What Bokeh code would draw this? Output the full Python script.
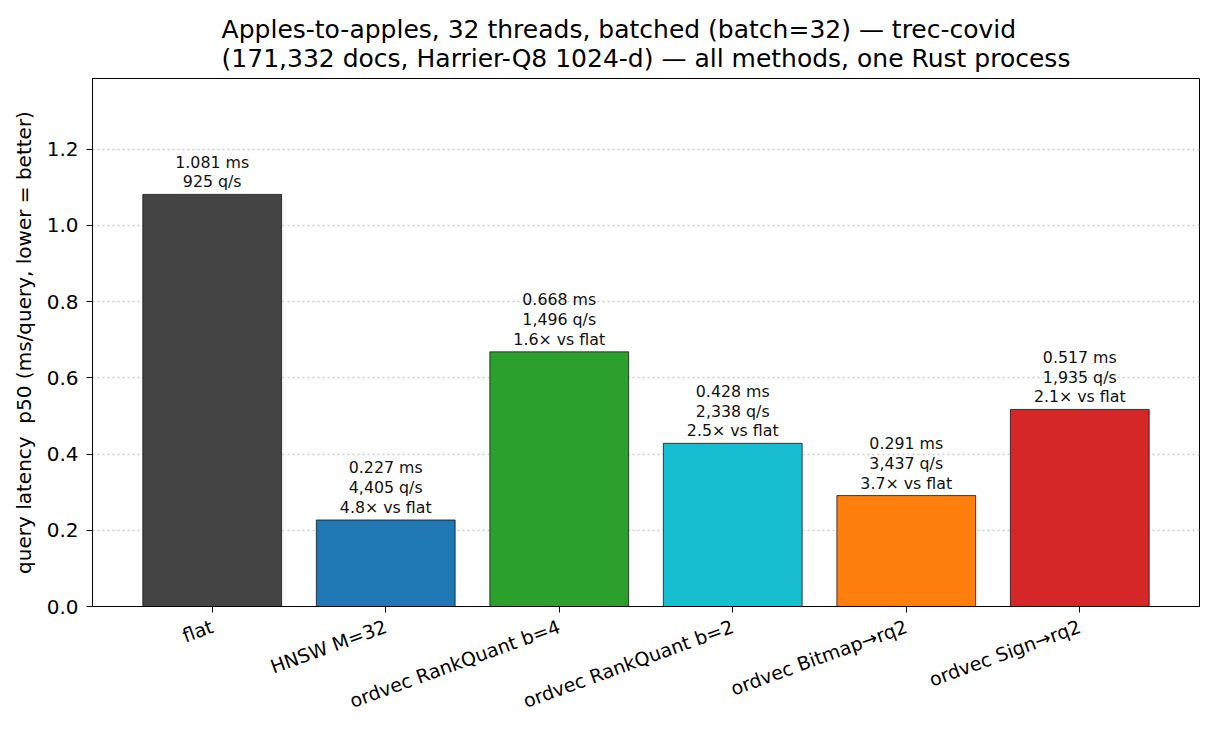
import math
from bokeh.plotting import figure
from bokeh.models import ColumnDataSource, FixedTicker, Range1d, PrintfTickFormatter
from bokeh.core.properties import value
from bokeh.embed import file_html
from bokeh.resources import INLINE

# ---- data ----
methods = ["flat", "HNSW M=32", "ordvec RankQuant b=4", "ordvec RankQuant b=2",
           "ordvec Bitmap\u2192rq2", "ordvec Sign\u2192rq2"]
latency_ms = [1.081, 0.227, 0.668, 0.428, 0.291, 0.517]
queries_per_s = [925, 4405, 1496, 2338, 3437, 1935]
speedup_vs_flat = [None, 4.8, 1.6, 2.5, 3.7, 2.1]
bar_colors = ["#444444", "#1f77b4", "#2ca02c", "#17becf", "#ff7f0e", "#d62728"]
y_ticks = [0.0, 0.2, 0.4, 0.6, 0.8, 1.0, 1.2]

title_text = ("Apples-to-apples, 32 threads, batched (batch=32) \u2014 trec-covid\n"
              "(171,332 docs, Harrier-Q8 1024-d) \u2014 all methods, one Rust process")
y_label = "query latency\u00a0 p50 (ms/query, lower = better)"

FONT = "DejaVu Sans"

labels = []
for ms, q, s in zip(latency_ms, queries_per_s, speedup_vs_flat):
    t = f"{ms:.3f} ms\n{q:,} q/s"
    if s is not None:
        t += f"\n{s:.1f}\u00d7 vs flat"
    labels.append(t)

xs = list(range(len(methods)))
src = ColumnDataSource(dict(x=xs, top=latency_ms, color=bar_colors, label=labels))

p = figure(width=1214, height=730, output_backend="svg", toolbar_location=None,
           x_range=Range1d(-0.69, 5.69), y_range=Range1d(0, 1.385),
           min_border_left=92, min_border_right=15, min_border_top=78,
           min_border_bottom=124)

p.vbar(x="x", top="top", bottom=0, width=0.8, fill_color="color",
       line_color="black", line_width=0.7, source=src)

p.text(x="x", y="top", text="label", text_align="center", text_baseline="bottom",
       y_offset=-3, text_font=value(FONT), text_font_size="15.8px",
       text_color="#111111", text_line_height=1.04, source=src)

# title
p.title.text = title_text
p.title.align = "center"
p.title.text_font = FONT
p.title.text_font_size = "25px"
p.title.text_font_style = "normal"
p.title.text_color = "black"
p.title.standoff = 11

# axes
for ax in (p.xaxis[0], p.yaxis[0]):
    ax.axis_line_color = "black"
    ax.axis_line_width = 1
    ax.major_tick_line_color = "black"
    ax.major_tick_out = 6
    ax.major_tick_in = 0
    ax.minor_tick_line_color = None
    ax.major_label_text_font = FONT
    ax.major_label_text_font_size = "20px"
    ax.major_label_text_color = "black"
    ax.major_label_standoff = 8

p.xaxis.ticker = FixedTicker(ticks=xs)
p.xaxis.major_label_overrides = {i: m for i, m in zip(xs, methods)}
p.xaxis.major_label_orientation = math.radians(20)
p.xaxis.major_label_text_font_size = "19px"
p.xaxis.major_label_standoff = 13

p.yaxis.ticker = FixedTicker(ticks=y_ticks)
p.yaxis.formatter = PrintfTickFormatter(format="%.1f")
p.yaxis.axis_label = y_label
p.yaxis.axis_label_text_font = FONT
p.yaxis.axis_label_text_font_size = "20px"
p.yaxis.axis_label_text_font_style = "normal"
p.yaxis.axis_label_text_color = "black"
p.yaxis.axis_label_standoff = 8

# grid
p.xgrid.visible = False
p.ygrid.grid_line_color = "#cccccc"
p.ygrid.grid_line_alpha = 1.0
p.ygrid.grid_line_width = 1.3
p.ygrid.grid_line_dash = "2 3"

p.outline_line_color = "black"
p.outline_line_alpha = 1
p.outline_line_width = 1
p.background_fill_color = "white"
p.border_fill_color = "white"

open("out.html", "w").write(file_html(p, INLINE))
